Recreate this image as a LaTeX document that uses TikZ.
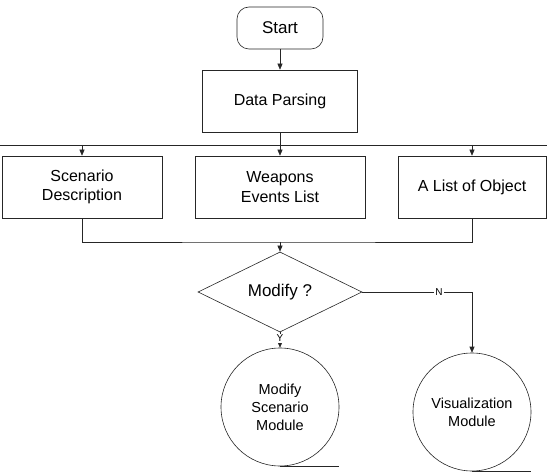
\documentclass[tikz,border=0pt]{standalone}
\usepackage{fontspec}
\setmainfont{Liberation Sans}
\usetikzlibrary{shapes.geometric,arrows.meta}

\begin{document}
\begin{tikzpicture}
  [x=1pt,y=-1pt,line width=.6pt,draw=black!85,
   every node/.style={align=center,font=\fontsize{16}{19.5}\selectfont},
   term/.style={draw,rounded corners=12pt,minimum width=86pt,minimum height=42pt,font=\fontsize{17}{20}\selectfont},
   box/.style={draw,minimum height=62pt,inner sep=0pt},
   decide/.style={draw,diamond,minimum width=164pt,minimum height=60pt,inner sep=0pt,font=\fontsize{17}{20}\selectfont},
   tape/.style={draw,circle,minimum size=118pt,inner sep=0pt,font=\fontsize{14.5}{18}\selectfont},
   flag/.style={fill=white,inner sep=1pt,font=\fontsize{10}{11}\selectfont},
   arr/.style={-{Triangle[length=6pt,width=5pt]}}]
  \useasboundingbox (0,0) rectangle (547,476);

  \node[term] (start) at (280,28) {Start};
  \node[box,minimum width=155pt] (parse) at (280,101) {Data Parsing};
  \node[box,minimum width=160pt] (scen) at (82,187) {Scenario\\Description};
  \node[box,minimum width=170pt] (weap) at (280,187) {Weapons\\Events List};
  \node[box,minimum width=148pt] (objs) at (472,187) {A List of Object};
  \node[decide] (ask) at (280,292) {Modify ?};
  \node[tape] (mod) at (280,407) {Modify\\Scenario\\Module};
  \node[tape] (vis) at (472,412) {Visualization\\Module};

  \coordinate (bus) at (280,145);
  \coordinate (busL) at (0,145);
  \coordinate (busR) at (547,145);
  \coordinate (merge) at (280,242);

  \draw[arr] (start) -- (parse);
  \draw (parse) -- (bus);
  \draw (busL) -- (busR);
  \foreach \to in {scen,weap,objs}
    \draw[arr] (bus -| \to) -- (\to);
  \draw (scen) |- (merge) -| (objs);
  \draw[arr] (merge) -- (ask);
  \draw[arr] (ask) -- node[flag,pos=.4]{Y} (mod);
  \draw[arr] (ask.east) -| node[flag,pos=.35]{N} (vis);

  \foreach \n in {mod,vis}
    \draw (\n.south) -- (\n.south -| \n.east);

\end{tikzpicture}
\end{document}
